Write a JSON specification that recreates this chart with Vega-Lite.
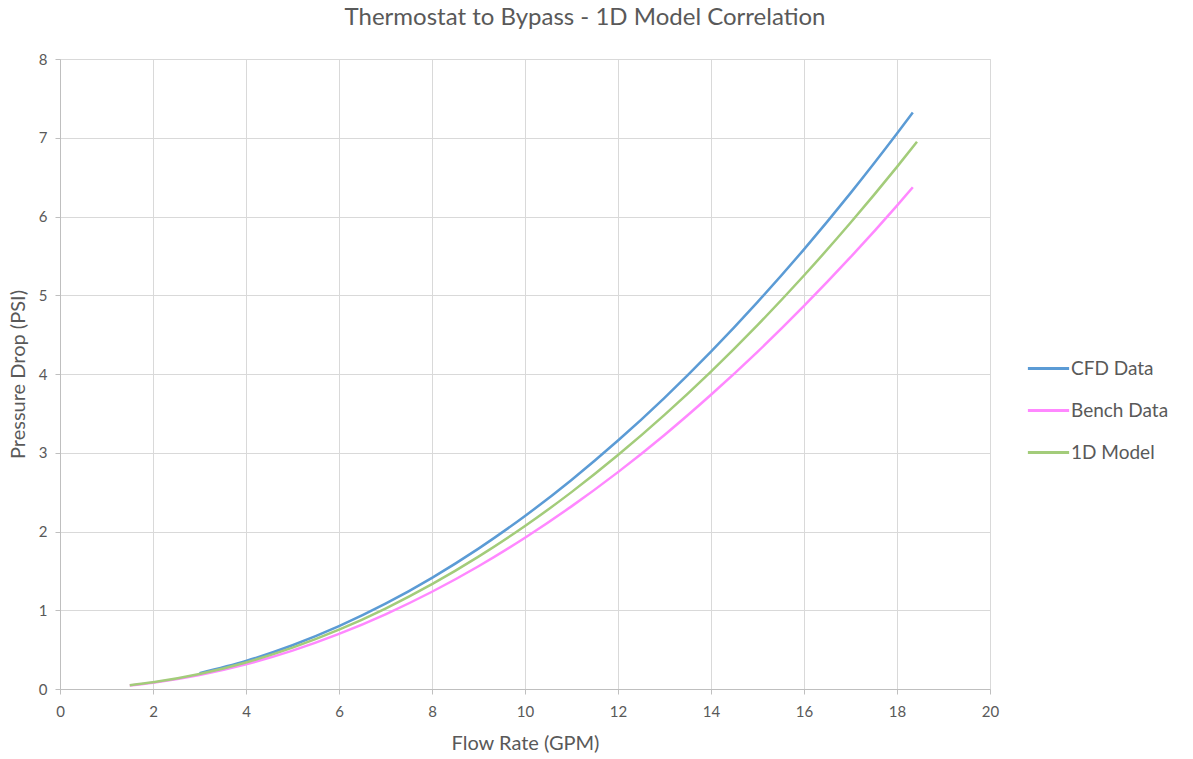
{
  "$schema": "https://vega.github.io/schema/vega-lite/v6.json",
  "width": 930,
  "height": 630,
  "autosize": "none",
  "padding": {"left": 60, "top": 59, "right": 203, "bottom": 70},
  "background": "white",
  "title": {
    "text": "Thermostat to Bypass - 1D Model Correlation",
    "font": "Lato",
    "fontSize": 24,
    "fontWeight": "normal",
    "color": "#595959",
    "anchor": "middle",
    "frame": "group",
    "dx": 60,
    "offset": 22
  },
  "data": {
    "values": [
      {"series": "CFD Data", "flow": 3, "dp": 0.202},
      {"series": "CFD Data", "flow": 4, "dp": 0.357},
      {"series": "CFD Data", "flow": 5, "dp": 0.556},
      {"series": "CFD Data", "flow": 6, "dp": 0.798},
      {"series": "CFD Data", "flow": 7, "dp": 1.083},
      {"series": "CFD Data", "flow": 8, "dp": 1.412},
      {"series": "CFD Data", "flow": 9, "dp": 1.783},
      {"series": "CFD Data", "flow": 10, "dp": 2.197},
      {"series": "CFD Data", "flow": 11, "dp": 2.655},
      {"series": "CFD Data", "flow": 12, "dp": 3.155},
      {"series": "CFD Data", "flow": 13, "dp": 3.698},
      {"series": "CFD Data", "flow": 14, "dp": 4.284},
      {"series": "CFD Data", "flow": 15, "dp": 4.913},
      {"series": "CFD Data", "flow": 16, "dp": 5.583},
      {"series": "CFD Data", "flow": 17, "dp": 6.297},
      {"series": "CFD Data", "flow": 18, "dp": 7.054},
      {"series": "CFD Data", "flow": 18.34, "dp": 7.32},
      {"series": "Bench Data", "flow": 1.5, "dp": 0.045},
      {"series": "Bench Data", "flow": 2, "dp": 0.08},
      {"series": "Bench Data", "flow": 3, "dp": 0.178},
      {"series": "Bench Data", "flow": 4, "dp": 0.314},
      {"series": "Bench Data", "flow": 5, "dp": 0.488},
      {"series": "Bench Data", "flow": 6, "dp": 0.7},
      {"series": "Bench Data", "flow": 7, "dp": 0.949},
      {"series": "Bench Data", "flow": 8, "dp": 1.235},
      {"series": "Bench Data", "flow": 9, "dp": 1.559},
      {"series": "Bench Data", "flow": 10, "dp": 1.921},
      {"series": "Bench Data", "flow": 11, "dp": 2.319},
      {"series": "Bench Data", "flow": 12, "dp": 2.754},
      {"series": "Bench Data", "flow": 13, "dp": 3.226},
      {"series": "Bench Data", "flow": 14, "dp": 3.736},
      {"series": "Bench Data", "flow": 15, "dp": 4.281},
      {"series": "Bench Data", "flow": 16, "dp": 4.864},
      {"series": "Bench Data", "flow": 17, "dp": 5.483},
      {"series": "Bench Data", "flow": 18, "dp": 6.139},
      {"series": "Bench Data", "flow": 18.34, "dp": 6.371},
      {"series": "1D Model", "flow": 1.5, "dp": 0.048},
      {"series": "1D Model", "flow": 2, "dp": 0.086},
      {"series": "1D Model", "flow": 3, "dp": 0.191},
      {"series": "1D Model", "flow": 4, "dp": 0.337},
      {"series": "1D Model", "flow": 5, "dp": 0.525},
      {"series": "1D Model", "flow": 6, "dp": 0.753},
      {"series": "1D Model", "flow": 7, "dp": 1.022},
      {"series": "1D Model", "flow": 8, "dp": 1.331},
      {"series": "1D Model", "flow": 9, "dp": 1.681},
      {"series": "1D Model", "flow": 10, "dp": 2.07},
      {"series": "1D Model", "flow": 11, "dp": 2.5},
      {"series": "1D Model", "flow": 12, "dp": 2.971},
      {"series": "1D Model", "flow": 13, "dp": 3.481},
      {"series": "1D Model", "flow": 14, "dp": 4.031},
      {"series": "1D Model", "flow": 15, "dp": 4.621},
      {"series": "1D Model", "flow": 16, "dp": 5.251},
      {"series": "1D Model", "flow": 17, "dp": 5.92},
      {"series": "1D Model", "flow": 18, "dp": 6.63},
      {"series": "1D Model", "flow": 18.43, "dp": 6.948}
    ]
  },
  "mark": {"type": "line", "strokeWidth": 2.5, "interpolate": "monotone"},
  "encoding": {
    "x": {
      "field": "flow",
      "type": "quantitative",
      "scale": {"domain": [0, 20], "nice": false, "zero": true},
      "axis": {
        "title": "Flow Rate (GPM)",
        "values": [0, 2, 4, 6, 8, 10, 12, 14, 16, 18, 20],
        "grid": true,
        "gridColor": "#d9d9d9",
        "domainColor": "#bfbfbf",
        "tickColor": "#bfbfbf",
        "tickSize": 5,
        "labelFlush": false,
        "labelFont": "Lato",
        "labelFontSize": 15,
        "labelColor": "#595959",
        "labelPadding": 10,
        "titleFont": "Lato",
        "titleFontSize": 20,
        "titleFontWeight": "normal",
        "titleColor": "#595959",
        "titlePadding": 14
      }
    },
    "y": {
      "field": "dp",
      "type": "quantitative",
      "scale": {"domain": [0, 8], "nice": false},
      "axis": {
        "title": "Pressure Drop (PSI)",
        "values": [0, 1, 2, 3, 4, 5, 6, 7, 8],
        "grid": true,
        "gridColor": "#d9d9d9",
        "domainColor": "#bfbfbf",
        "tickColor": "#bfbfbf",
        "tickSize": 5,
        "labelFlush": false,
        "labelFont": "Lato",
        "labelFontSize": 15,
        "labelColor": "#595959",
        "labelPadding": 8,
        "titleFont": "Lato",
        "titleFontSize": 20,
        "titleFontWeight": "normal",
        "titleColor": "#595959",
        "titlePadding": 10
      }
    },
    "color": {
      "field": "series",
      "type": "nominal",
      "sort": ["CFD Data", "Bench Data", "1D Model"],
      "scale": {
        "domain": ["CFD Data", "Bench Data", "1D Model"],
        "range": ["#5B9BD5", "#FF88FF", "#A3CC7A"]
      },
      "legend": {
        "title": null,
        "orient": "none",
        "legendX": 966,
        "legendY": 287,
        "symbolType": "stroke",
        "symbolStrokeWidth": 3,
        "symbolSize": 1700,
        "labelFont": "Lato",
        "labelFontSize": 19,
        "labelColor": "#595959",
        "labelOffset": 0,
        "rowPadding": 9
      }
    }
  }
}
